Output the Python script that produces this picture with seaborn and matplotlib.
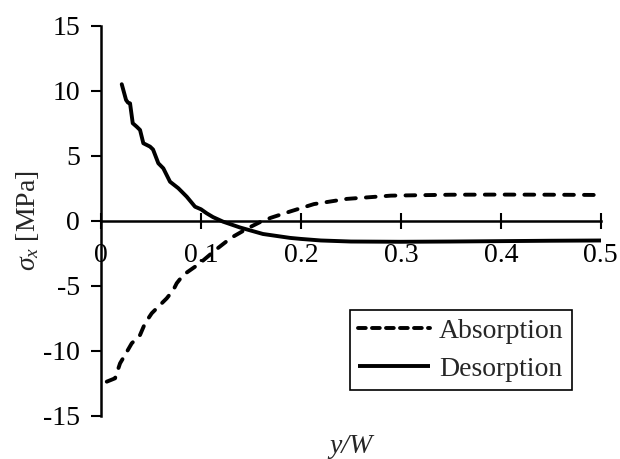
import matplotlib
matplotlib.use("Agg")
import matplotlib.pyplot as plt
from matplotlib.lines import Line2D
import seaborn as sns
import pandas as pd

# Data
abs_x = [0.0057, 0.014, 0.019, 0.024, 0.0307, 0.039, 0.044, 0.0507, 0.0573, 0.0657,
         0.0723, 0.0757, 0.0823, 0.094, 0.1007, 0.115, 0.13, 0.147, 0.16, 0.17, 0.19,
         0.213, 0.246, 0.29, 0.35, 0.4, 0.45, 0.5]
abs_y = [-12.36, -12.1, -10.95, -10.3, -9.41, -8.77, -7.87, -7.1, -6.59, -5.95,
         -5.31, -4.79, -4.15, -3.52, -3.13, -2.2, -1.3, -0.55, -0.05, 0.25, 0.75,
         1.3, 1.7, 1.95, 2.02, 2.03, 2.02, 2.0]

des_x = [0.0207, 0.025, 0.027, 0.029, 0.0317, 0.0357, 0.039, 0.0423, 0.049, 0.052,
         0.0573, 0.0623, 0.069, 0.0773, 0.0857, 0.094, 0.1, 0.1057, 0.112, 0.122,
         0.139, 0.162, 0.189, 0.2, 0.22, 0.25, 0.3, 0.35, 0.4, 0.45, 0.5]
des_y = [10.52, 9.31, 9.1, 9.05, 7.52, 7.25, 7.0, 5.98, 5.72, 5.5,
         4.44, 4.05, 3.02, 2.52, 1.87, 1.10, 0.9, 0.59, 0.3, -0.05,
         -0.5, -1.0, -1.3, -1.38, -1.5, -1.58, -1.6, -1.58, -1.55, -1.52, -1.5]

series_names = ["Absorption", "Desorption"]
x_ticks = [0, 0.1, 0.2, 0.3, 0.4, 0.5]
x_tick_labels = ["0", "0.1", "0.2", "0.3", "0.4", "0.5"]
y_ticks = [-15, -10, -5, 0, 5, 10, 15]
y_tick_labels = ["-15", "-10", "-5", "0", "5", "10", "15"]

sns.set_style("white")
plt.rcParams["font.family"] = ["Liberation Serif", "DejaVu Serif"]
plt.rcParams["mathtext.fontset"] = "custom"
plt.rcParams["mathtext.rm"] = "Liberation Serif"
plt.rcParams["mathtext.it"] = "Liberation Serif:italic"

df = pd.concat([
    pd.DataFrame({"x": abs_x, "y": abs_y, "series": series_names[0]}),
    pd.DataFrame({"x": des_x, "y": des_y, "series": series_names[1]}),
], ignore_index=True)

fig = plt.figure(figsize=(6.2, 4.59), dpi=100)
ax = fig.add_axes([0.163, 0.0937, 0.806, 0.8497])

LW = 2.8
dash = (2.5, 2.6)
sns.lineplot(data=df, x="x", y="y", hue="series", style="series",
             palette={"Absorption": "black", "Desorption": "black"},
             dashes={"Absorption": dash, "Desorption": ""},
             sort=False, estimator=None, linewidth=LW,
             dash_capstyle="round", solid_capstyle="round",
             solid_joinstyle="round",
             legend=False, ax=ax)

ax.set_xlim(0, 0.5)
ax.set_ylim(-15, 15)
ax.set_xticks(x_ticks)
ax.set_xticklabels(x_tick_labels)
ax.set_yticks(y_ticks)
ax.set_yticklabels(y_tick_labels)

for s in ["top", "right"]:
    ax.spines[s].set_visible(False)
ax.spines["bottom"].set_position(("data", 0))
for s in ["bottom", "left"]:
    ax.spines[s].set_color("black")
    ax.spines[s].set_linewidth(1.8)

FS = 20
ax.tick_params(axis="x", direction="inout", length=11.5, width=1.5, pad=10,
               labelsize=FS, colors="black", bottom=True, top=False)
ax.tick_params(axis="y", direction="out", length=7, width=1.5, pad=8,
               labelsize=FS, colors="black", left=True, right=False)

ax.set_xlabel("y/W", fontsize=FS, style="italic")
ax.xaxis.set_label_coords(0.5, -0.045)
ax.set_ylabel(r"$\sigma_x$ [MPa]", fontsize=FS)
ax.yaxis.set_label_coords(-0.12, 0.5)

handles = [
    Line2D([], [], color="black", lw=LW, dashes=(2.0, 1.6), dash_capstyle="round"),
    Line2D([], [], color="black", lw=LW, solid_capstyle="butt"),
]
leg = ax.legend(handles, series_names, loc="center", bbox_to_anchor=(0.72, 0.169),
                fontsize=FS, frameon=True, fancybox=False, framealpha=1,
                edgecolor="black", handlelength=2.6, handletextpad=0.3,
                labelspacing=0.45, borderpad=0.3, borderaxespad=0)
leg.get_frame().set_linewidth(1.2)

fig.savefig("out.png", dpi=100)
